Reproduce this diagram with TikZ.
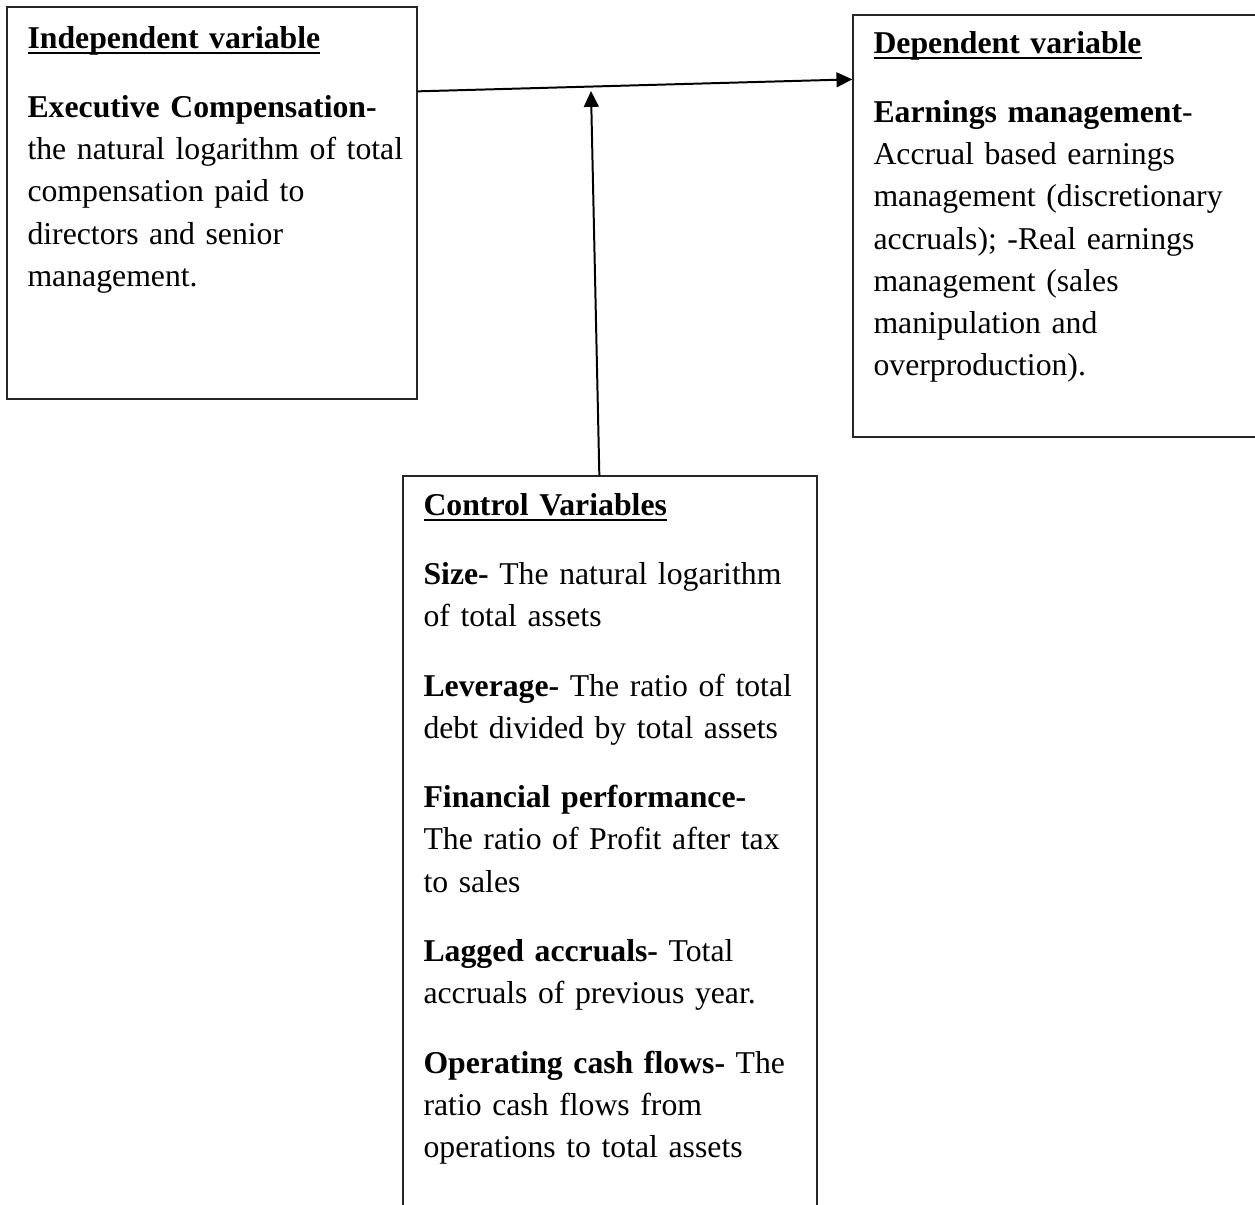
\documentclass[tikz,border=0pt]{standalone}
\usepackage{fontspec}
\setmainfont{Liberation Serif}
\usetikzlibrary{arrows.meta, calc, fit}
\newsavebox{\headbox}
\newcommand{\ulhead}[1]{\sbox{\headbox}{\textbf{#1}}\rlap{\rule[-2.4pt]{\wd\headbox}{0.9pt}}\usebox{\headbox}}

\begin{document}
\begin{tikzpicture}[x=0.378pt, y=-0.378pt,
    boxstyle/.style={draw=black!85, line width=0.5pt, inner sep=0pt},
    textstyle/.style={anchor=base west, inner sep=0pt, text width=160pt, align=left,
      font=\fontsize{12}{15.95}\selectfont},
    linkstyle/.style={-{Triangle[length=6pt, width=5.6pt]}, line width=0.75pt}]
  \useasboundingbox (0,0) rectangle (1255,1205);
  % boxes
  \node[boxstyle, fit={(7,7) (417,399)}] (indep) {};
  \node[boxstyle, fit={(853,15) (1275,437)}] (dep) {};
  \node[boxstyle, fit={(403,476) (817,1240)}] (ctrl) {};
  % texts
  \node[textstyle] (indeptext) at (27,48) {\ulhead{Independent variable}\\[10.3pt]
    \textbf{Executive Compensation-}\\ the natural logarithm of total\\
    compensation paid to\\ directors and senior\\ management.};
  \node[textstyle] (deptext) at (873,53) {\ulhead{Dependent variable}\\[10.3pt]
    \textbf{Earnings management}-\\ Accrual based earnings\\
    management (discretionary\\ accruals); -Real earnings\\
    management (sales\\ manipulation and\\ overproduction).};
  \node[textstyle] (ctrltext) at (423,515) {\ulhead{Control Variables}\\[10.3pt]
    \textbf{Size-} The natural logarithm\\ of total assets\\[10.3pt]
    \textbf{Leverage-} The ratio of total\\ debt divided by total assets\\[10.3pt]
    \textbf{Financial performance-}\\ The ratio of Profit after tax\\ to sales\\[10.3pt]
    \textbf{Lagged accruals-} Total\\ accruals of previous year.\\[10.3pt]
    \textbf{Operating cash flows-} The\\ ratio cash flows from\\ operations to total assets};
  % links
  \coordinate (meet) at (591,91);
  \draw[linkstyle] ($(indep.north east)+(0,85)$) -- ($(dep.north west)+(0,65)$);
  \draw[linkstyle] ($(ctrl.north west)+(197,0)$) -- (meet);
\end{tikzpicture}
\end{document}
